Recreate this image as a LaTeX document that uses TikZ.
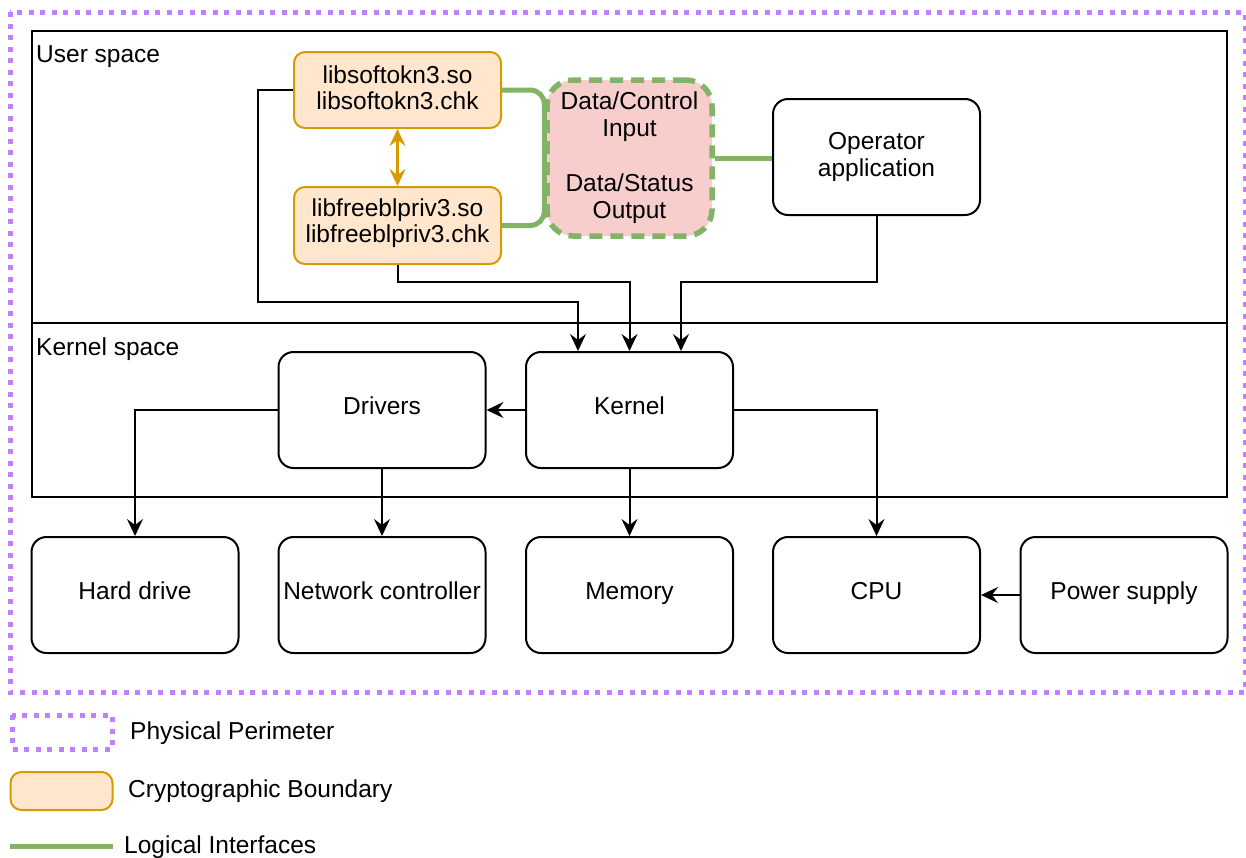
\documentclass[tikz,border=0pt]{standalone}
\usepackage{fontspec}
\setmainfont{Liberation Sans}
\usetikzlibrary{positioning,arrows.meta,calc}
\definecolor{perimline}{HTML}{C080FF}
\definecolor{cryptfill}{HTML}{FFE6CC}
\definecolor{cryptline}{HTML}{D79B00}
\definecolor{ifacefill}{HTML}{F8CECC}
\definecolor{logicline}{HTML}{82B366}

\begin{document}
\begin{tikzpicture}[
    x=1pt, y=-1pt,
    >={Stealth[length=17pt, width=16pt, inset=6pt]},
    font=\fontsize{24.5}{27}\selectfont,
    blockbox/.style={
        draw=black, line width=2pt, rounded corners=15pt,
        minimum width=207pt, minimum height=116pt, align=center, inner sep=0pt
      },
    onebox/.style={blockbox, text height=0.9em, text depth=0pt},
    cryptbox/.style={
        draw=cryptline, fill=cryptfill, line width=2pt, rounded corners=11pt,
        minimum width=207pt, minimum height=77pt, align=center, inner sep=0pt
      },
    ifacebox/.style={
        draw=logicline, fill=ifacefill, line width=5.5pt, rounded corners=26pt,
        dash pattern=on 13pt off 8pt,
        minimum width=165pt, minimum height=156pt, align=center, inner sep=0pt
      },
    perimeter/.style={draw=perimline, line width=5pt, dash pattern=on 5pt off 6.5pt},
    spacebox/.style={draw=black, line width=2pt},
    logic/.style={draw=logicline, line width=5pt},
    conn/.style={draw=black, line width=2pt, ->},
  ]
  \useasboundingbox (0,0) rectangle (1246,857);

  % physical perimeter and spaces
  \draw[perimeter] (10,12) rectangle (1245,692);
  \draw[spacebox] (32,31) rectangle (1227,323);
  \draw[spacebox] (32,323) rectangle (1227,497);
  \node[anchor=west, inner sep=0pt] (userlbl) at (36,57) {User space};
  \node[anchor=west, inner sep=0pt] (kernlbl) at (36,349) {Kernel space};

  % user space
  \node[cryptbox, minimum height=76pt] (soft) at (397.5,90) {};
  \node[align=center, inner sep=0pt] (softtxt) at (397.5,88) {libsoftokn3.so\\[-1pt]libsoftokn3.chk};
  \node[cryptbox] (freebl) at (397.5,225.5) {};
  \node[align=center, inner sep=0pt] (freebltxt) at (397.5,223.5) {libfreeblpriv3.so\\[-1pt]libfreeblpriv3.chk};
  \node[ifacebox] (iface) at (629.5,158) {Data/Control\\Input\\[28pt]Data/Status\\Output};
  \node[blockbox] (oper) at (876.5,157) {Operator\\application};

  % kernel space
  \node[onebox] (drv) at (382,410) {Drivers};
  \node[onebox] (kern) at (629.5,410) {Kernel};

  % hardware
  \node[onebox] (hdd) at (135,595) {Hard drive};
  \node[onebox] (net) at (382,595) {Network controller};
  \node[onebox] (mem) at (629.5,595) {Memory};
  \node[onebox] (cpu) at (876.5,595) {CPU};
  \node[onebox] (pwr) at (1124,595) {Power supply};

  \draw[<->, cryptline, line width=2.5pt] (soft) -- (freebl);
  \draw[logic, rounded corners=14pt] (soft.east) -| (iface.west);
  \draw[logic, rounded corners=14pt] (freebl.east) -| (iface.west);
  \draw[logic] (iface.east) -- (iface.east -| oper.west);

  \draw[conn] (soft.west) -- ++(-35,0) |- ($(kern.north)+(-51.5,-49)$) -- ($(kern.north)+(-51.5,0)$);
  \draw[conn] (freebl.south) |- ($(kern.north)+(0,-69)$) -- (kern.north);
  \draw[conn] (oper.south) |- ($(kern.north)+(51.5,-69)$) -- ($(kern.north)+(51.5,0)$);
  \draw[conn] (kern.west) -- (drv.east);
  \draw[conn] (drv.west) -| (hdd.north);
  \draw[conn] (drv.south) -- (net.north);
  \draw[conn] (kern.south) -- (mem.north);
  \draw[conn] (kern.east) -| (cpu.north);
  \draw[conn] (pwr.west) -- (cpu.east);

  % legend
  \draw[perimeter] (12,715) rectangle (112,749);
  \node[anchor=west, inner sep=0pt] (legperim) at (130,733) {Physical Perimeter};
  \node[cryptbox, minimum width=102pt, minimum height=38pt] (legcrypt) at (61.5,791) {};
  \node[anchor=west, inner sep=0pt] (legcryptlbl) at (128,791) {Cryptographic Boundary};
  \coordinate (loga) at (10,846);
  \coordinate (logb) at (113,846);
  \draw[logic] (loga) -- (logb);
  \node[anchor=west, inner sep=0pt] (loglbl) at (124,847) {Logical Interfaces};
\end{tikzpicture}
\end{document}
